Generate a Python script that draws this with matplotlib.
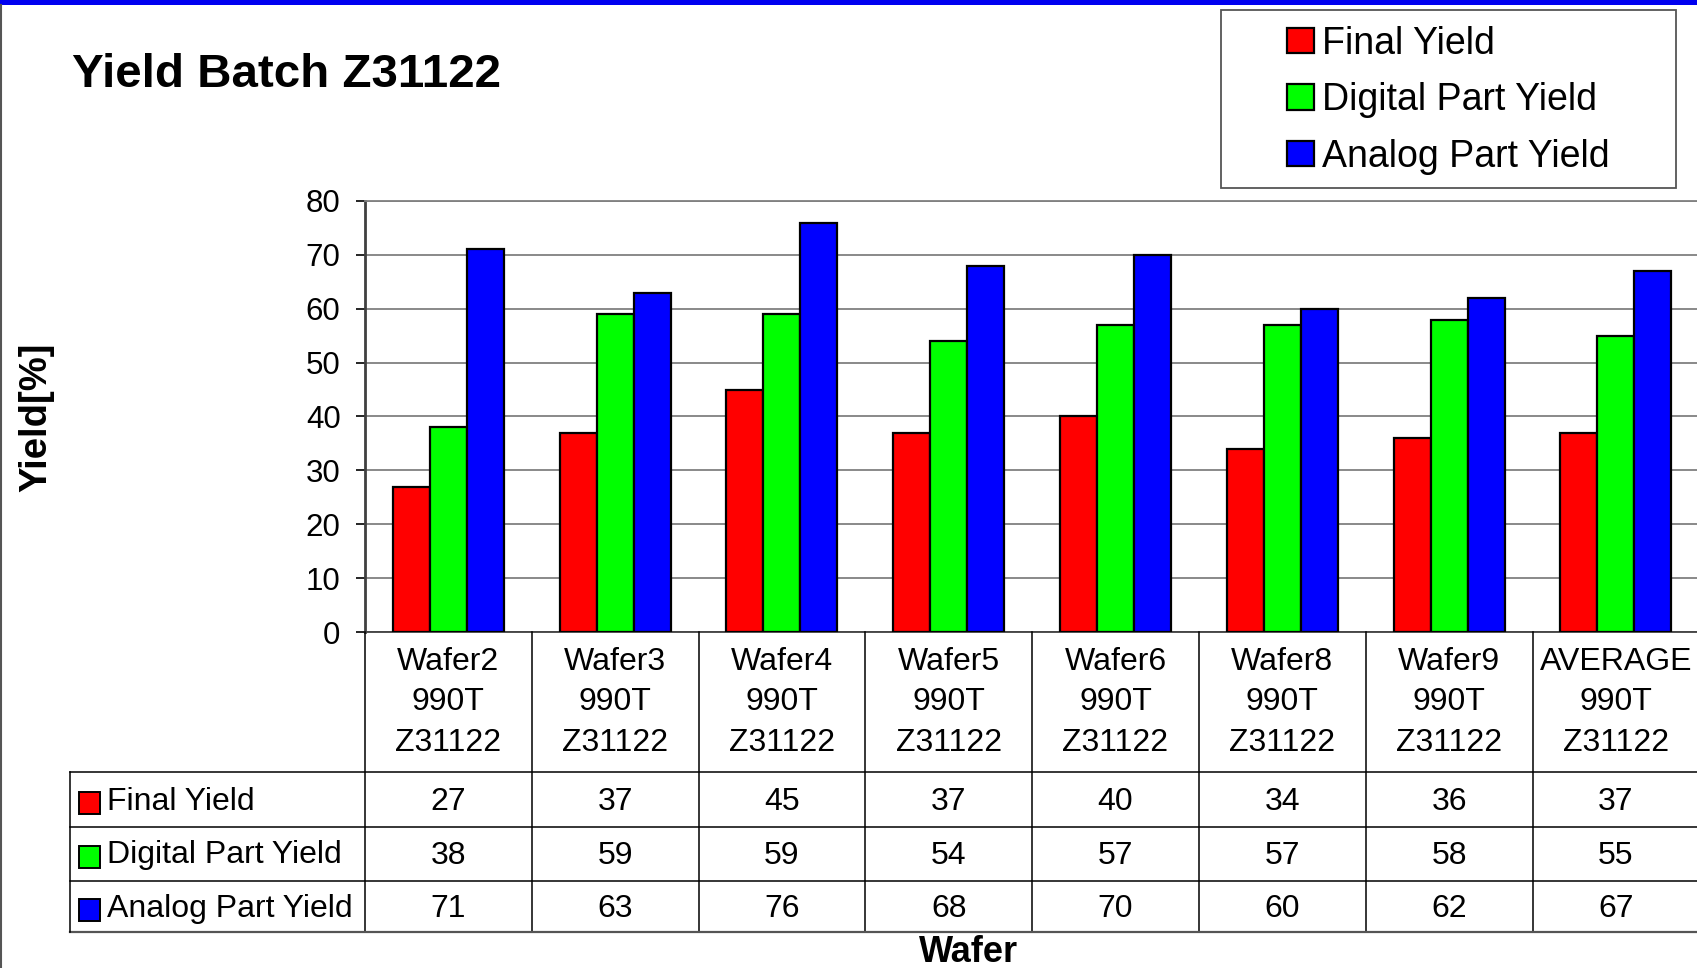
import numpy as np
import matplotlib
matplotlib.use("Agg")
import matplotlib.pyplot as plt
from matplotlib.patches import Rectangle, Patch
from matplotlib.transforms import blended_transform_factory

plt.rcParams['font.family'] = ['Liberation Sans', 'DejaVu Sans']

# datos
wafers = ['Wafer2', 'Wafer3', 'Wafer4', 'Wafer5', 'Wafer6', 'Wafer8', 'Wafer9', 'AVERAGE']
linea2 = '990T'
linea3 = 'Z31122'
series = ['Final Yield', 'Digital Part Yield', 'Analog Part Yield']
final = [27, 37, 45, 37, 40, 34, 36, 37]
digital = [38, 59, 59, 54, 57, 57, 58, 55]
analog = [71, 63, 76, 68, 70, 60, 62, 67]
colores = ['#FF0000', '#00FF00', '#0000FF']
yticks = [0, 10, 20, 30, 40, 50, 60, 70, 80]

W, H = 1697, 968
def fx(px): return px / W
def fy(py): return 1 - py / H

fig = plt.figure(figsize=(W / 100, H / 100), dpi=100)

# ejes principales (pixeles: x 365..1699, y 201..632)
x0, x1, ytop, ybot = 364.9, 1699.3, 201, 632
ax = fig.add_axes([fx(x0), fy(ybot), (x1 - x0) / W, (ybot - ytop) / H])

x = np.arange(len(wafers))
bw = 0.222
valores = [final, digital, analog]
for k, (vals, c, nombre) in enumerate(zip(valores, colores, series)):
    ax.bar(x + (k - 1) * bw, vals, bw, color=c, edgecolor='black',
           linewidth=1.6, zorder=3, label=nombre)

ax.set_xlim(-0.5, len(wafers) - 0.5)
ax.set_ylim(0, 80)
ax.set_yticks(yticks)
ax.yaxis.grid(True, color='#808080', linewidth=1.3)
ax.set_axisbelow(True)
ax.spines['top'].set_color('#808080')
ax.spines['top'].set_linewidth(1.3)
ax.spines['right'].set_visible(False)
ax.spines['left'].set_color('#404040')
ax.spines['left'].set_linewidth(2)
ax.spines['bottom'].set_color('#404040')
ax.spines['bottom'].set_linewidth(1.3)
ax.tick_params(axis='y', length=6.5, width=1.2, pad=11, labelsize=22.5, colors='black')
ax.tick_params(axis='x', bottom=False, labelbottom=False)

ax.set_ylabel('Yield[%]', fontsize=27.5, fontweight='bold')
ax.yaxis.set_label_coords((54 - x0) / (x1 - x0), (ybot - 417.5) / (ybot - ytop))
ax.set_xlabel('Wafer', fontsize=26, fontweight='bold', va='baseline')
ax.xaxis.set_label_coords((969 - x0) / (x1 - x0), (ybot - 962) / (ybot - ytop))

# capa en pixeles para la tabla
ov = fig.add_axes([0, 0, 1, 1])
ov.set_xlim(0, W)
ov.set_ylim(H, 0)
ov.axis('off')
tr = blended_transform_factory(ax.transData, ov.transData)

fila_lim = [771.5, 827, 880.5, 931.5]
for b in np.arange(-0.5, len(wafers), 1.0):
    ov.plot([b, b], [ybot, fila_lim[-1]], transform=tr, color='black', lw=1.1, clip_on=False)
for yy in fila_lim[:-1]:
    ov.plot([70, W + 5], [yy, yy], color='black', lw=1.1)
ov.plot([70, W + 5], [fila_lim[-1], fila_lim[-1]], color='#555555', lw=1.6)
ov.plot([70, 70], [fila_lim[0], fila_lim[-1]], color='black', lw=1.1)

# encabezados de columnas
base_enc = [670, 710, 751]
for i, w in enumerate(wafers):
    for j, t in enumerate([w, linea2, linea3]):
        ov.text(i, base_enc[j], t, transform=tr, ha='center', va='baseline', fontsize=23)

# filas de valores
base_fil = [810, 863.5, 917]
for k, (vals, c, nombre) in enumerate(zip(valores, colores, series)):
    yb = base_fil[k]
    ov.add_patch(Rectangle((79, yb - 18), 21, 22, facecolor=c, edgecolor='black', lw=1.4))
    ov.text(107, yb, nombre, ha='left', va='baseline', fontsize=23)
    for i, v in enumerate(vals):
        ov.text(i, yb, str(v), transform=tr, ha='center', va='baseline', fontsize=23)

# leyenda
handles = [Patch(facecolor=c, edgecolor='black', linewidth=1.6) for c in colores]
fig.legend(handles, series, loc='upper left', bbox_to_anchor=(fx(1287), fy(25.5)),
           frameon=False, fontsize=27, borderpad=0, borderaxespad=0,
           handlelength=0.71, handleheight=0.67, handletextpad=0.22, labelspacing=0.55)
fig.patches.append(Rectangle((fx(1220.7), fy(187.7)), (1675.7 - 1220.7) / W, (187.7 - 10) / H,
                             transform=fig.transFigure, fill=False, edgecolor='#555555', lw=1.3))

# titulo y bordes
fig.text(fx(72), fy(87), 'Yield Batch Z31122', fontsize=34.2, fontweight='bold', va='baseline')
fig.patches.append(Rectangle((0, fy(5)), 1, 5 / H, transform=fig.transFigure,
                             facecolor='#0000F0', edgecolor='none'))
fig.lines.append(plt.Line2D([fx(1), fx(1)], [0, fy(5)], transform=fig.transFigure,
                            color='#555555', lw=1.5))

fig.savefig('out.png', dpi=100)
